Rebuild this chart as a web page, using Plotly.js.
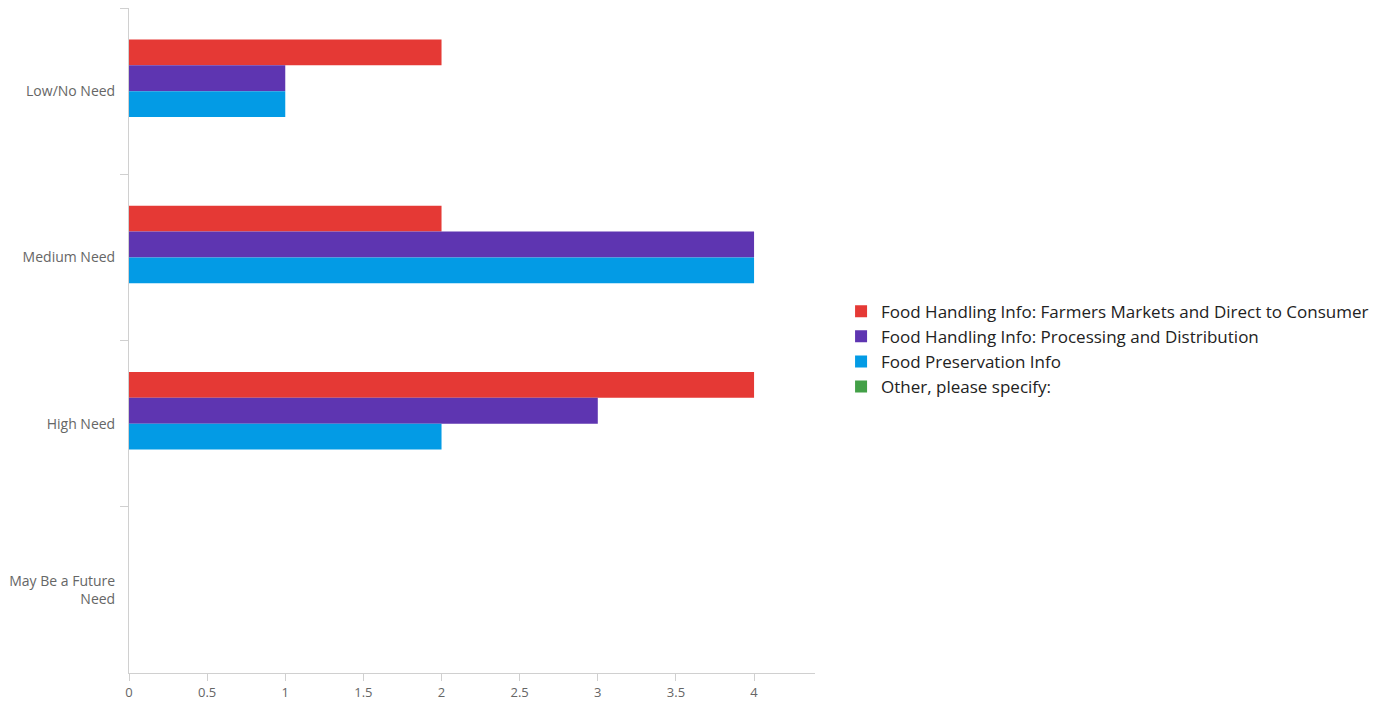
<!DOCTYPE html>
<html>
<head>
<meta charset="utf-8">
<script src="https://cdn.plot.ly/plotly-3.0.1.min.js"></script>
<style>
  html, body { margin: 0; padding: 0; background: #fff; }
  #chart { width: 1389px; height: 705px; }
</style>
</head>
<body>
<div id="chart"></div>
<script>
const categories = ["Low/No Need", "Medium Need", "High Need", "May Be a Future<br>Need"];
const seriesNames = [
  "Food Handling Info: Farmers Markets and Direct to Consumer",
  "Food Handling Info: Processing and Distribution",
  "Food Preservation Info",
  "Other, please specify:"
];
const farmersMarkets = [2, 2, 4, 0];
const processing = [1, 4, 3, 0];
const preservation = [1, 4, 2, 0];
const other = [0, 0, 0, 0];
const seriesValues = [farmersMarkets, processing, preservation, other];
const colors = ["#e53935", "#5e35b1", "#039be5", "#43a047"];

const traces = seriesNames.map((name, i) => ({
  type: "bar",
  orientation: "h",
  name: name,
  x: seriesValues[i],
  y: categories,
  marker: { color: colors[i] },
  legendgroup: "g" + i,
  hoverinfo: "x+name"
}));

const layout = {
  width: 1389,
  height: 705,
  margin: { l: 129, r: 574, t: 8, b: 32 },
  paper_bgcolor: "#ffffff",
  plot_bgcolor: "#ffffff",
  font: { family: "Open Sans, Noto Sans, sans-serif", color: "#666666", size: 13 },
  barmode: "group",
  bargap: 0.38,
  bargroupgap: 0,
  showlegend: true,
  legend: {
    x: 1.038, xanchor: "left",
    y: 0.487, yanchor: "middle",
    font: { size: 17, color: "#222222" },
    tracegroupgap: 4,
    traceorder: "normal"
  },
  xaxis: {
    range: [0, 4.39],
    dtick: 0.5,
    showgrid: false,
    zeroline: false,
    showline: true,
    linecolor: "#d0d0d0",
    linewidth: 1,
    ticks: "outside",
    ticklen: 7,
    tickcolor: "#d0d0d0",
    tickfont: { size: 13, color: "#666666" }
  },
  yaxis: {
    type: "category",
    autorange: "reversed",
    showgrid: false,
    zeroline: false,
    showline: true,
    linecolor: "#d0d0d0",
    linewidth: 1,
    ticks: "outside",
    tickson: "boundaries",
    ticklen: 8,
    ticklabelstandoff: 10,
    tickcolor: "#d0d0d0",
    tickfont: { size: 14, color: "#666666" }
  }
};

Plotly.newPlot("chart", traces, layout, { displayModeBar: false, staticPlot: false });
</script>
</body>
</html>
